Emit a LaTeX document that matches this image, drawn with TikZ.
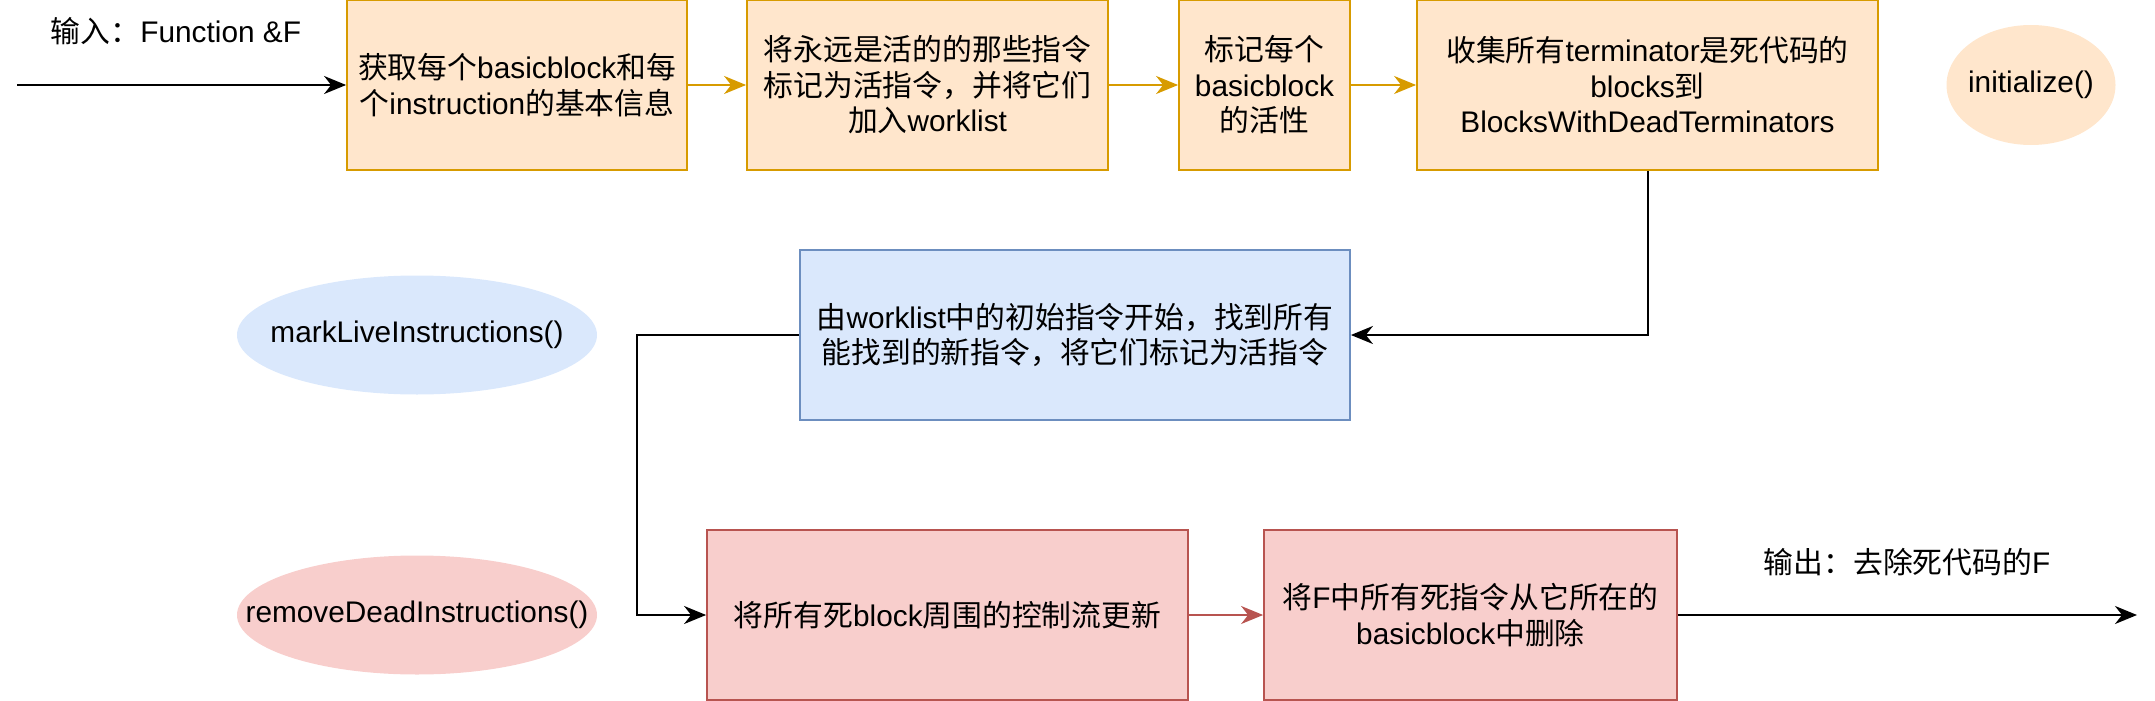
\documentclass[tikz,border=0pt]{standalone}
\usepackage{fontspec}
\setmainfont{Liberation Sans}
\newfontfamily\cjkfont{Noto Sans CJK SC}
\newcommand\zh[1]{{\cjkfont #1}}
\usetikzlibrary{arrows.meta,shapes.geometric}
\definecolor{orgfill}{HTML}{FFE6CC}
\definecolor{orgline}{HTML}{D79B00}
\definecolor{bluefill}{HTML}{DAE8FC}
\definecolor{blueline}{HTML}{6C8EBF}
\definecolor{redfill}{HTML}{F8CECC}
\definecolor{redline}{HTML}{B85450}
\begin{document}
\begin{tikzpicture}[x=1pt,y=-1pt,
  every node/.style={font=\fontsize{29.8pt}{35.5pt}\selectfont, text=black},
  box/.style={rectangle, line width=1.8pt, inner sep=0pt, align=center, minimum height=170pt},
  orangebox/.style={box, draw=orgline, fill=orgfill},
  bluebox/.style={box, draw=blueline, fill=bluefill},
  redbox/.style={box, draw=redline, fill=redfill},
  blob/.style={ellipse, draw=none, inner sep=0pt},
  tip/.style={-{Stealth[length=22pt,width=18pt,inset=7pt]}},
  blk/.style={tip, line width=2pt, draw=black},
  orgarrow/.style={tip, line width=2pt, draw=orgline, color=orgline},
  redarrow/.style={tip, line width=2pt, draw=redline, color=redline},
  plain/.style={inner sep=0pt}
]
\useasboundingbox (0,0) rectangle (2155,701);

% top row
\node[orangebox, minimum width=340pt] (b1) at (517,85)
  {\zh{获取每个}basicblock\zh{和每}\\\zh{个}instruction\zh{的基本信息}};
\node[orangebox, minimum width=361pt] (b2) at (927.5,85)
  {\zh{将永远是活的的那些指令}\\\zh{标记为活指令，并将它们}\\\zh{加入}worklist};
\node[orangebox, minimum width=171pt] (b3) at (1264.5,85)
  {\zh{标记每个}\\basicblock\\\zh{的活性}};
\node[orangebox, minimum width=461pt] (b4) at (1647.5,85)
  {\zh{收集所有}terminator\zh{是死代码的}\\blocks\zh{到}\\BlocksWithDeadTerminators};
\node[blob, fill=orgfill, minimum width=169pt, minimum height=120pt,
  label={center:initialize()}] (init) at (2031,85) {};

% middle row
\node[bluebox, minimum width=550pt] (blue) at (1075,335)
  {\zh{由}worklist\zh{中的初始指令开始，找到所有}\\\zh{能找到的新指令，将它们标记为活指令}};
\node[blob, fill=bluefill, minimum width=360pt, minimum height=119pt,
  label={center:markLiveInstructions()}] (mark) at (417,335) {};

% bottom row
\node[redbox, minimum width=481pt] (r1) at (947.5,615)
  {\zh{将所有死}block\zh{周围的控制流更新}};
\node[redbox, minimum width=413pt] (r2) at (1470.5,615)
  {\zh{将}F\zh{中所有死指令从它所在的}\\basicblock\zh{中删除}};
\node[blob, fill=redfill, minimum width=360pt, minimum height=119pt,
  label={center:removeDeadInstructions()}] (remove) at (417,615) {};

% labels
\node[plain] (inlab) at (176,31) {\zh{输入：}Function \&F};
\node[plain] (outlab) at (1907,562) {\zh{输出：去除死代码的}F};

% connectors
\coordinate (inS) at (17,85);
\coordinate (outE) at (2137,615);
\coordinate (elb) at (637,335);
\draw[blk] (inS) -- (b1.west);
\draw[orgarrow] (b1) -- (b2);
\draw[orgarrow] (b2) -- (b3);
\draw[orgarrow] (b3) -- (b4);
\draw[blk] (b4.south) |- (blue.east);
\draw[blk] (blue.west) -- (elb) |- (r1.west);
\draw[redarrow] (r1) -- (r2);
\draw[blk] (r2.east) -- (outE);
\end{tikzpicture}
\end{document}
